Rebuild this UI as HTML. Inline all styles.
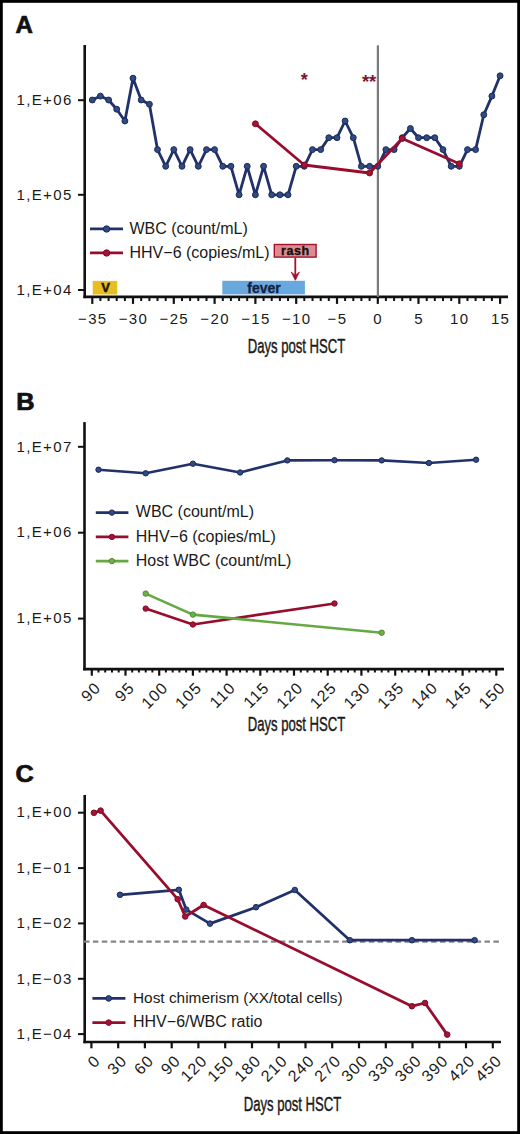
<!DOCTYPE html>
<html><head><meta charset="utf-8"><style>
html,body{margin:0;padding:0;background:#fff;}
#f{position:relative;width:520px;height:1134px;overflow:hidden;}
svg{position:absolute;left:0;top:0;}
</style></head><body><div id="f">
<svg width="520" height="1134" viewBox="0 0 520 1134" font-family='Liberation Sans, sans-serif'>
<rect x="0" y="0" width="520" height="1134" fill="#fff"/>
<text x='15.5' y='33' font-size='24' text-anchor='start' font-weight='bold' fill='#111' stroke='#111' stroke-width='0.7'>A</text>
<line x1='84.7' y1='45' x2='84.7' y2='298.09999999999997' stroke='#111' stroke-width='2.6'/>
<line x1='83.4' y1='296.9' x2='508' y2='296.9' stroke='#111' stroke-width='2.6'/>
<line x1='78' y1='100.2' x2='84.7' y2='100.2' stroke='#111' stroke-width='2'/>
<text x='72.6' y='104.9' font-size='15' text-anchor='end' font-weight='normal' fill='#1a1a1a' letter-spacing='1.35' >1,E+06</text>
<line x1='78' y1='194.8' x2='84.7' y2='194.8' stroke='#111' stroke-width='2'/>
<text x='72.6' y='199.5' font-size='15' text-anchor='end' font-weight='normal' fill='#1a1a1a' letter-spacing='1.35' >1,E+05</text>
<line x1='78' y1='290' x2='84.7' y2='290' stroke='#111' stroke-width='2'/>
<text x='72.6' y='294.7' font-size='15' text-anchor='end' font-weight='normal' fill='#1a1a1a' letter-spacing='1.35' >1,E+04</text>
<line x1='92.3' y1='296.9' x2='92.3' y2='303.9' stroke='#111' stroke-width='2.2'/>
<text x='92.8' y='324.4' font-size='15' text-anchor='middle' font-weight='normal' fill='#1a1a1a' letter-spacing='1.35' >−35</text>
<line x1='100.4' y1='296.9' x2='100.4' y2='301' stroke='#111' stroke-width='2'/>
<line x1='108.6' y1='296.9' x2='108.6' y2='301' stroke='#111' stroke-width='2'/>
<line x1='116.7' y1='296.9' x2='116.7' y2='301' stroke='#111' stroke-width='2'/>
<line x1='124.9' y1='296.9' x2='124.9' y2='301' stroke='#111' stroke-width='2'/>
<line x1='133.0' y1='296.9' x2='133.0' y2='303.9' stroke='#111' stroke-width='2.2'/>
<text x='133.5' y='324.4' font-size='15' text-anchor='middle' font-weight='normal' fill='#1a1a1a' letter-spacing='1.35' >−30</text>
<line x1='141.2' y1='296.9' x2='141.2' y2='301' stroke='#111' stroke-width='2'/>
<line x1='149.4' y1='296.9' x2='149.4' y2='301' stroke='#111' stroke-width='2'/>
<line x1='157.5' y1='296.9' x2='157.5' y2='301' stroke='#111' stroke-width='2'/>
<line x1='165.7' y1='296.9' x2='165.7' y2='301' stroke='#111' stroke-width='2'/>
<line x1='173.8' y1='296.9' x2='173.8' y2='303.9' stroke='#111' stroke-width='2.2'/>
<text x='174.3' y='324.4' font-size='15' text-anchor='middle' font-weight='normal' fill='#1a1a1a' letter-spacing='1.35' >−25</text>
<line x1='182.0' y1='296.9' x2='182.0' y2='301' stroke='#111' stroke-width='2'/>
<line x1='190.1' y1='296.9' x2='190.1' y2='301' stroke='#111' stroke-width='2'/>
<line x1='198.3' y1='296.9' x2='198.3' y2='301' stroke='#111' stroke-width='2'/>
<line x1='206.5' y1='296.9' x2='206.5' y2='301' stroke='#111' stroke-width='2'/>
<line x1='214.6' y1='296.9' x2='214.6' y2='303.9' stroke='#111' stroke-width='2.2'/>
<text x='215.1' y='324.4' font-size='15' text-anchor='middle' font-weight='normal' fill='#1a1a1a' letter-spacing='1.35' >−20</text>
<line x1='222.8' y1='296.9' x2='222.8' y2='301' stroke='#111' stroke-width='2'/>
<line x1='230.9' y1='296.9' x2='230.9' y2='301' stroke='#111' stroke-width='2'/>
<line x1='239.1' y1='296.9' x2='239.1' y2='301' stroke='#111' stroke-width='2'/>
<line x1='247.2' y1='296.9' x2='247.2' y2='301' stroke='#111' stroke-width='2'/>
<line x1='255.4' y1='296.9' x2='255.4' y2='303.9' stroke='#111' stroke-width='2.2'/>
<text x='255.9' y='324.4' font-size='15' text-anchor='middle' font-weight='normal' fill='#1a1a1a' letter-spacing='1.35' >−15</text>
<line x1='263.6' y1='296.9' x2='263.6' y2='301' stroke='#111' stroke-width='2'/>
<line x1='271.7' y1='296.9' x2='271.7' y2='301' stroke='#111' stroke-width='2'/>
<line x1='279.9' y1='296.9' x2='279.9' y2='301' stroke='#111' stroke-width='2'/>
<line x1='288.0' y1='296.9' x2='288.0' y2='301' stroke='#111' stroke-width='2'/>
<line x1='296.2' y1='296.9' x2='296.2' y2='303.9' stroke='#111' stroke-width='2.2'/>
<text x='296.7' y='324.4' font-size='15' text-anchor='middle' font-weight='normal' fill='#1a1a1a' letter-spacing='1.35' >−10</text>
<line x1='304.3' y1='296.9' x2='304.3' y2='301' stroke='#111' stroke-width='2'/>
<line x1='312.5' y1='296.9' x2='312.5' y2='301' stroke='#111' stroke-width='2'/>
<line x1='320.7' y1='296.9' x2='320.7' y2='301' stroke='#111' stroke-width='2'/>
<line x1='328.8' y1='296.9' x2='328.8' y2='301' stroke='#111' stroke-width='2'/>
<line x1='337.0' y1='296.9' x2='337.0' y2='303.9' stroke='#111' stroke-width='2.2'/>
<text x='337.5' y='324.4' font-size='15' text-anchor='middle' font-weight='normal' fill='#1a1a1a' letter-spacing='1.35' >−5</text>
<line x1='345.1' y1='296.9' x2='345.1' y2='301' stroke='#111' stroke-width='2'/>
<line x1='353.3' y1='296.9' x2='353.3' y2='301' stroke='#111' stroke-width='2'/>
<line x1='361.4' y1='296.9' x2='361.4' y2='301' stroke='#111' stroke-width='2'/>
<line x1='369.6' y1='296.9' x2='369.6' y2='301' stroke='#111' stroke-width='2'/>
<line x1='377.8' y1='296.9' x2='377.8' y2='303.9' stroke='#111' stroke-width='2.2'/>
<text x='378.2' y='324.4' font-size='15' text-anchor='middle' font-weight='normal' fill='#1a1a1a' letter-spacing='1.35' >0</text>
<line x1='385.9' y1='296.9' x2='385.9' y2='301' stroke='#111' stroke-width='2'/>
<line x1='394.1' y1='296.9' x2='394.1' y2='301' stroke='#111' stroke-width='2'/>
<line x1='402.2' y1='296.9' x2='402.2' y2='301' stroke='#111' stroke-width='2'/>
<line x1='410.4' y1='296.9' x2='410.4' y2='301' stroke='#111' stroke-width='2'/>
<line x1='418.5' y1='296.9' x2='418.5' y2='303.9' stroke='#111' stroke-width='2.2'/>
<text x='419.0' y='324.4' font-size='15' text-anchor='middle' font-weight='normal' fill='#1a1a1a' letter-spacing='1.35' >5</text>
<line x1='426.7' y1='296.9' x2='426.7' y2='301' stroke='#111' stroke-width='2'/>
<line x1='434.8' y1='296.9' x2='434.8' y2='301' stroke='#111' stroke-width='2'/>
<line x1='443.0' y1='296.9' x2='443.0' y2='301' stroke='#111' stroke-width='2'/>
<line x1='451.2' y1='296.9' x2='451.2' y2='301' stroke='#111' stroke-width='2'/>
<line x1='459.3' y1='296.9' x2='459.3' y2='303.9' stroke='#111' stroke-width='2.2'/>
<text x='459.8' y='324.4' font-size='15' text-anchor='middle' font-weight='normal' fill='#1a1a1a' letter-spacing='1.35' >10</text>
<line x1='467.5' y1='296.9' x2='467.5' y2='301' stroke='#111' stroke-width='2'/>
<line x1='475.6' y1='296.9' x2='475.6' y2='301' stroke='#111' stroke-width='2'/>
<line x1='483.8' y1='296.9' x2='483.8' y2='301' stroke='#111' stroke-width='2'/>
<line x1='491.9' y1='296.9' x2='491.9' y2='301' stroke='#111' stroke-width='2'/>
<line x1='500.1' y1='296.9' x2='500.1' y2='303.9' stroke='#111' stroke-width='2.2'/>
<text x='500.6' y='324.4' font-size='15' text-anchor='middle' font-weight='normal' fill='#1a1a1a' letter-spacing='1.35' >15</text>
<line x1='377.9' y1='45.3' x2='377.9' y2='296.9' stroke='#7a7a7a' stroke-width='2.2'/>
<text x='296.5' y='352.8' font-size='20.5' text-anchor='middle' fill='#1a1a1a' stroke='#1a1a1a' stroke-width='0.45' transform='translate(296.5 0) scale(0.64 1) translate(-296.5 0)'>Days post HSCT</text>
<rect x='222.3' y='280.8' width='82.6' height='13.6' fill='#68a8de'/>
<text x='264' y='293.3' font-size='14' text-anchor='middle' font-weight='bold' fill='#14213f' stroke='#14213f' stroke-width='0.3'>fever</text>
<rect x='92.7' y='280.9' width='24.6' height='13.6' fill='#e8bf22'/>
<text x='105.5' y='292' font-size='13' text-anchor='middle' font-weight='bold' fill='#1b1308' stroke='#1b1308' stroke-width='0.5'>V</text>
<rect x='274.3' y='244.5' width='41.8' height='12.6' fill='#de8a8e' stroke='#a3132f' stroke-width='1.4'/>
<text x='295.4' y='255.1' font-size='12.5' text-anchor='middle' font-weight='bold' fill='#111' letter-spacing='0.6' stroke='#111' stroke-width='0.35'>rash</text>
<line x1='295.3' y1='257.8' x2='295.3' y2='279' stroke='#a3132f' stroke-width='1.8'/>
<path d='M291.2,272 L295.3,280.3 L299.4,272 L295.3,275.5 Z' fill='#a3132f' stroke='#a3132f' stroke-width='0.8' stroke-linejoin='round'/>
<polyline points='92.3,100.0 100.4,96.1 108.6,100.0 116.7,109.2 124.9,121.0 133.0,78.2 141.2,100.0 149.4,104.3 157.5,149.6 165.7,166.3 173.8,149.6 182.0,166.3 190.1,149.6 198.3,166.3 206.5,149.6 214.6,149.6 222.8,166.3 230.9,166.3 239.1,194.8 247.2,166.3 255.4,194.8 263.6,166.3 271.7,194.8 279.9,194.8 288.0,194.8 296.2,166.3 304.3,166.3 312.5,149.6 320.7,149.6 328.8,137.7 337.0,137.7 345.1,121.0 353.3,137.7 361.4,166.3 369.6,166.3 377.8,166.3 385.9,149.6 394.1,149.6 402.2,137.7 410.4,128.5 418.5,137.7 426.7,137.7 434.8,137.7 443.0,149.6 451.2,166.3 459.3,166.3 467.5,149.6 475.6,149.6 483.8,114.7 491.9,96.1 500.1,75.8' fill='none' stroke='#21326a' stroke-width='2.8' stroke-linejoin='round' stroke-linecap='round'/>
<circle cx='92.3' cy='100.0' r='2.95' fill='#2f4a85' stroke='#1c2a55' stroke-width='1'/>
<circle cx='100.4' cy='96.1' r='2.95' fill='#2f4a85' stroke='#1c2a55' stroke-width='1'/>
<circle cx='108.6' cy='100.0' r='2.95' fill='#2f4a85' stroke='#1c2a55' stroke-width='1'/>
<circle cx='116.7' cy='109.2' r='2.95' fill='#2f4a85' stroke='#1c2a55' stroke-width='1'/>
<circle cx='124.9' cy='121.0' r='2.95' fill='#2f4a85' stroke='#1c2a55' stroke-width='1'/>
<circle cx='133.0' cy='78.2' r='2.95' fill='#2f4a85' stroke='#1c2a55' stroke-width='1'/>
<circle cx='141.2' cy='100.0' r='2.95' fill='#2f4a85' stroke='#1c2a55' stroke-width='1'/>
<circle cx='149.4' cy='104.3' r='2.95' fill='#2f4a85' stroke='#1c2a55' stroke-width='1'/>
<circle cx='157.5' cy='149.6' r='2.95' fill='#2f4a85' stroke='#1c2a55' stroke-width='1'/>
<circle cx='165.7' cy='166.3' r='2.95' fill='#2f4a85' stroke='#1c2a55' stroke-width='1'/>
<circle cx='173.8' cy='149.6' r='2.95' fill='#2f4a85' stroke='#1c2a55' stroke-width='1'/>
<circle cx='182.0' cy='166.3' r='2.95' fill='#2f4a85' stroke='#1c2a55' stroke-width='1'/>
<circle cx='190.1' cy='149.6' r='2.95' fill='#2f4a85' stroke='#1c2a55' stroke-width='1'/>
<circle cx='198.3' cy='166.3' r='2.95' fill='#2f4a85' stroke='#1c2a55' stroke-width='1'/>
<circle cx='206.5' cy='149.6' r='2.95' fill='#2f4a85' stroke='#1c2a55' stroke-width='1'/>
<circle cx='214.6' cy='149.6' r='2.95' fill='#2f4a85' stroke='#1c2a55' stroke-width='1'/>
<circle cx='222.8' cy='166.3' r='2.95' fill='#2f4a85' stroke='#1c2a55' stroke-width='1'/>
<circle cx='230.9' cy='166.3' r='2.95' fill='#2f4a85' stroke='#1c2a55' stroke-width='1'/>
<circle cx='239.1' cy='194.8' r='2.95' fill='#2f4a85' stroke='#1c2a55' stroke-width='1'/>
<circle cx='247.2' cy='166.3' r='2.95' fill='#2f4a85' stroke='#1c2a55' stroke-width='1'/>
<circle cx='255.4' cy='194.8' r='2.95' fill='#2f4a85' stroke='#1c2a55' stroke-width='1'/>
<circle cx='263.6' cy='166.3' r='2.95' fill='#2f4a85' stroke='#1c2a55' stroke-width='1'/>
<circle cx='271.7' cy='194.8' r='2.95' fill='#2f4a85' stroke='#1c2a55' stroke-width='1'/>
<circle cx='279.9' cy='194.8' r='2.95' fill='#2f4a85' stroke='#1c2a55' stroke-width='1'/>
<circle cx='288.0' cy='194.8' r='2.95' fill='#2f4a85' stroke='#1c2a55' stroke-width='1'/>
<circle cx='296.2' cy='166.3' r='2.95' fill='#2f4a85' stroke='#1c2a55' stroke-width='1'/>
<circle cx='304.3' cy='166.3' r='2.95' fill='#2f4a85' stroke='#1c2a55' stroke-width='1'/>
<circle cx='312.5' cy='149.6' r='2.95' fill='#2f4a85' stroke='#1c2a55' stroke-width='1'/>
<circle cx='320.7' cy='149.6' r='2.95' fill='#2f4a85' stroke='#1c2a55' stroke-width='1'/>
<circle cx='328.8' cy='137.7' r='2.95' fill='#2f4a85' stroke='#1c2a55' stroke-width='1'/>
<circle cx='337.0' cy='137.7' r='2.95' fill='#2f4a85' stroke='#1c2a55' stroke-width='1'/>
<circle cx='345.1' cy='121.0' r='2.95' fill='#2f4a85' stroke='#1c2a55' stroke-width='1'/>
<circle cx='353.3' cy='137.7' r='2.95' fill='#2f4a85' stroke='#1c2a55' stroke-width='1'/>
<circle cx='361.4' cy='166.3' r='2.95' fill='#2f4a85' stroke='#1c2a55' stroke-width='1'/>
<circle cx='369.6' cy='166.3' r='2.95' fill='#2f4a85' stroke='#1c2a55' stroke-width='1'/>
<circle cx='377.8' cy='166.3' r='2.95' fill='#2f4a85' stroke='#1c2a55' stroke-width='1'/>
<circle cx='385.9' cy='149.6' r='2.95' fill='#2f4a85' stroke='#1c2a55' stroke-width='1'/>
<circle cx='394.1' cy='149.6' r='2.95' fill='#2f4a85' stroke='#1c2a55' stroke-width='1'/>
<circle cx='402.2' cy='137.7' r='2.95' fill='#2f4a85' stroke='#1c2a55' stroke-width='1'/>
<circle cx='410.4' cy='128.5' r='2.95' fill='#2f4a85' stroke='#1c2a55' stroke-width='1'/>
<circle cx='418.5' cy='137.7' r='2.95' fill='#2f4a85' stroke='#1c2a55' stroke-width='1'/>
<circle cx='426.7' cy='137.7' r='2.95' fill='#2f4a85' stroke='#1c2a55' stroke-width='1'/>
<circle cx='434.8' cy='137.7' r='2.95' fill='#2f4a85' stroke='#1c2a55' stroke-width='1'/>
<circle cx='443.0' cy='149.6' r='2.95' fill='#2f4a85' stroke='#1c2a55' stroke-width='1'/>
<circle cx='451.2' cy='166.3' r='2.95' fill='#2f4a85' stroke='#1c2a55' stroke-width='1'/>
<circle cx='459.3' cy='166.3' r='2.95' fill='#2f4a85' stroke='#1c2a55' stroke-width='1'/>
<circle cx='467.5' cy='149.6' r='2.95' fill='#2f4a85' stroke='#1c2a55' stroke-width='1'/>
<circle cx='475.6' cy='149.6' r='2.95' fill='#2f4a85' stroke='#1c2a55' stroke-width='1'/>
<circle cx='483.8' cy='114.7' r='2.95' fill='#2f4a85' stroke='#1c2a55' stroke-width='1'/>
<circle cx='491.9' cy='96.1' r='2.95' fill='#2f4a85' stroke='#1c2a55' stroke-width='1'/>
<circle cx='500.1' cy='75.8' r='2.95' fill='#2f4a85' stroke='#1c2a55' stroke-width='1'/>
<polyline points='255.4,123.8 304.3,165.0 369.6,173.0 402.2,138.5 459.3,163.8' fill='none' stroke='#980c2e' stroke-width='2.8' stroke-linejoin='round' stroke-linecap='round'/>
<circle cx='255.4' cy='123.8' r='2.95' fill='#a81236' stroke='#7d0c25' stroke-width='1'/>
<circle cx='304.3' cy='165.0' r='2.95' fill='#a81236' stroke='#7d0c25' stroke-width='1'/>
<circle cx='369.6' cy='173.0' r='2.95' fill='#a81236' stroke='#7d0c25' stroke-width='1'/>
<circle cx='402.2' cy='138.5' r='2.95' fill='#a81236' stroke='#7d0c25' stroke-width='1'/>
<circle cx='459.3' cy='163.8' r='2.95' fill='#a81236' stroke='#7d0c25' stroke-width='1'/>
<text x='304.3' y='86.2' font-size='18' text-anchor='middle' font-weight='bold' fill='#7c1632' >*</text>
<text x='369.1' y='87.6' font-size='18.5' text-anchor='middle' font-weight='bold' fill='#7c1632' >**</text>
<line x1='90' y1='228.9' x2='123' y2='228.9' stroke='#21326a' stroke-width='2.7'/>
<circle cx='106.6' cy='229.0' r='3.2' fill='#2f4a85' stroke='#1c2a55' stroke-width='1'/>
<line x1='90' y1='252.8' x2='123' y2='252.8' stroke='#980c2e' stroke-width='2.7'/>
<circle cx='106.6' cy='253.0' r='3.2' fill='#a81236' stroke='#7d0c25' stroke-width='1'/>
<text x='129.5' y='233.8' font-size='16' text-anchor='start' font-weight='normal' fill='#1a1a1a' >WBC (count/mL)</text>
<text x='129.5' y='258' font-size='16' text-anchor='start' font-weight='normal' fill='#1a1a1a' >HHV−6 (copies/mL)</text>
<text x='16.2' y='410' font-size='23' text-anchor='start' font-weight='bold' fill='#111' stroke='#111' stroke-width='0.7' transform='translate(16.2 0) scale(1.1 1) translate(-16.2 0)'>B</text>
<line x1='84.5' y1='422.1' x2='84.5' y2='670.3000000000001' stroke='#111' stroke-width='2.6'/>
<line x1='83.2' y1='669.1' x2='504' y2='669.1' stroke='#111' stroke-width='2.6'/>
<line x1='78' y1='446.8' x2='84.5' y2='446.8' stroke='#111' stroke-width='2'/>
<text x='72.6' y='451.5' font-size='15' text-anchor='end' font-weight='normal' fill='#1a1a1a' letter-spacing='1.35' >1,E+07</text>
<line x1='78' y1='532.7' x2='84.5' y2='532.7' stroke='#111' stroke-width='2'/>
<text x='72.6' y='537.4000000000001' font-size='15' text-anchor='end' font-weight='normal' fill='#1a1a1a' letter-spacing='1.35' >1,E+06</text>
<line x1='78' y1='618.6' x2='84.5' y2='618.6' stroke='#111' stroke-width='2'/>
<text x='72.6' y='623.3000000000001' font-size='15' text-anchor='end' font-weight='normal' fill='#1a1a1a' letter-spacing='1.35' >1,E+05</text>
<line x1='91.8' y1='669.1' x2='91.8' y2='675.7' stroke='#111' stroke-width='2.2'/>
<text x='101.7' y='688.8' font-size='16' letter-spacing='1.0' text-anchor='end' fill='#1a1a1a' transform='rotate(-45 101.7 688.8)'>90</text>
<line x1='98.5' y1='669.1' x2='98.5' y2='672.5' stroke='#111' stroke-width='2'/>
<line x1='105.2' y1='669.1' x2='105.2' y2='672.5' stroke='#111' stroke-width='2'/>
<line x1='112.0' y1='669.1' x2='112.0' y2='672.5' stroke='#111' stroke-width='2'/>
<line x1='118.7' y1='669.1' x2='118.7' y2='672.5' stroke='#111' stroke-width='2'/>
<line x1='125.5' y1='669.1' x2='125.5' y2='675.7' stroke='#111' stroke-width='2.2'/>
<text x='135.4' y='688.8' font-size='16' letter-spacing='1.0' text-anchor='end' fill='#1a1a1a' transform='rotate(-45 135.4 688.8)'>95</text>
<line x1='132.2' y1='669.1' x2='132.2' y2='672.5' stroke='#111' stroke-width='2'/>
<line x1='138.9' y1='669.1' x2='138.9' y2='672.5' stroke='#111' stroke-width='2'/>
<line x1='145.7' y1='669.1' x2='145.7' y2='672.5' stroke='#111' stroke-width='2'/>
<line x1='152.4' y1='669.1' x2='152.4' y2='672.5' stroke='#111' stroke-width='2'/>
<line x1='159.2' y1='669.1' x2='159.2' y2='675.7' stroke='#111' stroke-width='2.2'/>
<text x='169.1' y='688.8' font-size='16' letter-spacing='1.0' text-anchor='end' fill='#1a1a1a' transform='rotate(-45 169.1 688.8)'>100</text>
<line x1='165.9' y1='669.1' x2='165.9' y2='672.5' stroke='#111' stroke-width='2'/>
<line x1='172.7' y1='669.1' x2='172.7' y2='672.5' stroke='#111' stroke-width='2'/>
<line x1='179.4' y1='669.1' x2='179.4' y2='672.5' stroke='#111' stroke-width='2'/>
<line x1='186.1' y1='669.1' x2='186.1' y2='672.5' stroke='#111' stroke-width='2'/>
<line x1='192.9' y1='669.1' x2='192.9' y2='675.7' stroke='#111' stroke-width='2.2'/>
<text x='202.8' y='688.8' font-size='16' letter-spacing='1.0' text-anchor='end' fill='#1a1a1a' transform='rotate(-45 202.8 688.8)'>105</text>
<line x1='199.6' y1='669.1' x2='199.6' y2='672.5' stroke='#111' stroke-width='2'/>
<line x1='206.4' y1='669.1' x2='206.4' y2='672.5' stroke='#111' stroke-width='2'/>
<line x1='213.1' y1='669.1' x2='213.1' y2='672.5' stroke='#111' stroke-width='2'/>
<line x1='219.9' y1='669.1' x2='219.9' y2='672.5' stroke='#111' stroke-width='2'/>
<line x1='226.6' y1='669.1' x2='226.6' y2='675.7' stroke='#111' stroke-width='2.2'/>
<text x='236.5' y='688.8' font-size='16' letter-spacing='1.0' text-anchor='end' fill='#1a1a1a' transform='rotate(-45 236.5 688.8)'>110</text>
<line x1='233.3' y1='669.1' x2='233.3' y2='672.5' stroke='#111' stroke-width='2'/>
<line x1='240.1' y1='669.1' x2='240.1' y2='672.5' stroke='#111' stroke-width='2'/>
<line x1='246.8' y1='669.1' x2='246.8' y2='672.5' stroke='#111' stroke-width='2'/>
<line x1='253.6' y1='669.1' x2='253.6' y2='672.5' stroke='#111' stroke-width='2'/>
<line x1='260.3' y1='669.1' x2='260.3' y2='675.7' stroke='#111' stroke-width='2.2'/>
<text x='270.2' y='688.8' font-size='16' letter-spacing='1.0' text-anchor='end' fill='#1a1a1a' transform='rotate(-45 270.2 688.8)'>115</text>
<line x1='267.1' y1='669.1' x2='267.1' y2='672.5' stroke='#111' stroke-width='2'/>
<line x1='273.8' y1='669.1' x2='273.8' y2='672.5' stroke='#111' stroke-width='2'/>
<line x1='280.5' y1='669.1' x2='280.5' y2='672.5' stroke='#111' stroke-width='2'/>
<line x1='287.3' y1='669.1' x2='287.3' y2='672.5' stroke='#111' stroke-width='2'/>
<line x1='294.0' y1='669.1' x2='294.0' y2='675.7' stroke='#111' stroke-width='2.2'/>
<text x='303.9' y='688.8' font-size='16' letter-spacing='1.0' text-anchor='end' fill='#1a1a1a' transform='rotate(-45 303.9 688.8)'>120</text>
<line x1='300.8' y1='669.1' x2='300.8' y2='672.5' stroke='#111' stroke-width='2'/>
<line x1='307.5' y1='669.1' x2='307.5' y2='672.5' stroke='#111' stroke-width='2'/>
<line x1='314.3' y1='669.1' x2='314.3' y2='672.5' stroke='#111' stroke-width='2'/>
<line x1='321.0' y1='669.1' x2='321.0' y2='672.5' stroke='#111' stroke-width='2'/>
<line x1='327.7' y1='669.1' x2='327.7' y2='675.7' stroke='#111' stroke-width='2.2'/>
<text x='337.6' y='688.8' font-size='16' letter-spacing='1.0' text-anchor='end' fill='#1a1a1a' transform='rotate(-45 337.6 688.8)'>125</text>
<line x1='334.5' y1='669.1' x2='334.5' y2='672.5' stroke='#111' stroke-width='2'/>
<line x1='341.2' y1='669.1' x2='341.2' y2='672.5' stroke='#111' stroke-width='2'/>
<line x1='348.0' y1='669.1' x2='348.0' y2='672.5' stroke='#111' stroke-width='2'/>
<line x1='354.7' y1='669.1' x2='354.7' y2='672.5' stroke='#111' stroke-width='2'/>
<line x1='361.4' y1='669.1' x2='361.4' y2='675.7' stroke='#111' stroke-width='2.2'/>
<text x='371.3' y='688.8' font-size='16' letter-spacing='1.0' text-anchor='end' fill='#1a1a1a' transform='rotate(-45 371.3 688.8)'>130</text>
<line x1='368.2' y1='669.1' x2='368.2' y2='672.5' stroke='#111' stroke-width='2'/>
<line x1='374.9' y1='669.1' x2='374.9' y2='672.5' stroke='#111' stroke-width='2'/>
<line x1='381.7' y1='669.1' x2='381.7' y2='672.5' stroke='#111' stroke-width='2'/>
<line x1='388.4' y1='669.1' x2='388.4' y2='672.5' stroke='#111' stroke-width='2'/>
<line x1='395.2' y1='669.1' x2='395.2' y2='675.7' stroke='#111' stroke-width='2.2'/>
<text x='405.1' y='688.8' font-size='16' letter-spacing='1.0' text-anchor='end' fill='#1a1a1a' transform='rotate(-45 405.1 688.8)'>135</text>
<line x1='401.9' y1='669.1' x2='401.9' y2='672.5' stroke='#111' stroke-width='2'/>
<line x1='408.6' y1='669.1' x2='408.6' y2='672.5' stroke='#111' stroke-width='2'/>
<line x1='415.4' y1='669.1' x2='415.4' y2='672.5' stroke='#111' stroke-width='2'/>
<line x1='422.1' y1='669.1' x2='422.1' y2='672.5' stroke='#111' stroke-width='2'/>
<line x1='428.9' y1='669.1' x2='428.9' y2='675.7' stroke='#111' stroke-width='2.2'/>
<text x='438.8' y='688.8' font-size='16' letter-spacing='1.0' text-anchor='end' fill='#1a1a1a' transform='rotate(-45 438.8 688.8)'>140</text>
<line x1='435.6' y1='669.1' x2='435.6' y2='672.5' stroke='#111' stroke-width='2'/>
<line x1='442.4' y1='669.1' x2='442.4' y2='672.5' stroke='#111' stroke-width='2'/>
<line x1='449.1' y1='669.1' x2='449.1' y2='672.5' stroke='#111' stroke-width='2'/>
<line x1='455.8' y1='669.1' x2='455.8' y2='672.5' stroke='#111' stroke-width='2'/>
<line x1='462.6' y1='669.1' x2='462.6' y2='675.7' stroke='#111' stroke-width='2.2'/>
<text x='472.5' y='688.8' font-size='16' letter-spacing='1.0' text-anchor='end' fill='#1a1a1a' transform='rotate(-45 472.5 688.8)'>145</text>
<line x1='469.3' y1='669.1' x2='469.3' y2='672.5' stroke='#111' stroke-width='2'/>
<line x1='476.1' y1='669.1' x2='476.1' y2='672.5' stroke='#111' stroke-width='2'/>
<line x1='482.8' y1='669.1' x2='482.8' y2='672.5' stroke='#111' stroke-width='2'/>
<line x1='489.6' y1='669.1' x2='489.6' y2='672.5' stroke='#111' stroke-width='2'/>
<line x1='496.3' y1='669.1' x2='496.3' y2='675.7' stroke='#111' stroke-width='2.2'/>
<text x='506.2' y='688.8' font-size='16' letter-spacing='1.0' text-anchor='end' fill='#1a1a1a' transform='rotate(-45 506.2 688.8)'>150</text>
<text x='296.5' y='731.2' font-size='20.5' text-anchor='middle' fill='#1a1a1a' stroke='#1a1a1a' stroke-width='0.45' transform='translate(296.5 0) scale(0.64 1) translate(-296.5 0)'>Days post HSCT</text>
<polyline points='98.5,469.7 145.7,473.3 192.9,463.7 240.1,472.5 287.3,460.4 334.5,460.2 381.7,460.4 428.9,463.0 476.1,459.7' fill='none' stroke='#21326a' stroke-width='2.6' stroke-linejoin='round' stroke-linecap='round'/>
<circle cx='98.5' cy='469.7' r='2.7' fill='#2f4a85' stroke='#1c2a55' stroke-width='1'/>
<circle cx='145.7' cy='473.3' r='2.7' fill='#2f4a85' stroke='#1c2a55' stroke-width='1'/>
<circle cx='192.9' cy='463.7' r='2.7' fill='#2f4a85' stroke='#1c2a55' stroke-width='1'/>
<circle cx='240.1' cy='472.5' r='2.7' fill='#2f4a85' stroke='#1c2a55' stroke-width='1'/>
<circle cx='287.3' cy='460.4' r='2.7' fill='#2f4a85' stroke='#1c2a55' stroke-width='1'/>
<circle cx='334.5' cy='460.2' r='2.7' fill='#2f4a85' stroke='#1c2a55' stroke-width='1'/>
<circle cx='381.7' cy='460.4' r='2.7' fill='#2f4a85' stroke='#1c2a55' stroke-width='1'/>
<circle cx='428.9' cy='463.0' r='2.7' fill='#2f4a85' stroke='#1c2a55' stroke-width='1'/>
<circle cx='476.1' cy='459.7' r='2.7' fill='#2f4a85' stroke='#1c2a55' stroke-width='1'/>
<polyline points='145.7,608.6 192.9,624.5 334.5,603.5' fill='none' stroke='#980c2e' stroke-width='2.6' stroke-linejoin='round' stroke-linecap='round'/>
<circle cx='145.7' cy='608.6' r='2.7' fill='#a81236' stroke='#7d0c25' stroke-width='1'/>
<circle cx='192.9' cy='624.5' r='2.7' fill='#a81236' stroke='#7d0c25' stroke-width='1'/>
<circle cx='334.5' cy='603.5' r='2.7' fill='#a81236' stroke='#7d0c25' stroke-width='1'/>
<polyline points='145.7,593.6 192.9,614.6 381.7,632.7' fill='none' stroke='#66a844' stroke-width='2.6' stroke-linejoin='round' stroke-linecap='round'/>
<circle cx='145.7' cy='593.6' r='2.7' fill='#70b04b' stroke='#4f8a30' stroke-width='1'/>
<circle cx='192.9' cy='614.6' r='2.7' fill='#70b04b' stroke='#4f8a30' stroke-width='1'/>
<circle cx='381.7' cy='632.7' r='2.7' fill='#70b04b' stroke='#4f8a30' stroke-width='1'/>
<line x1='95.8' y1='512.6' x2='128.4' y2='512.6' stroke='#21326a' stroke-width='2.6'/>
<circle cx='111.9' cy='512.6' r='2.7' fill='#2f4a85' stroke='#1c2a55' stroke-width='1'/>
<text x='135.8' y='517.4' font-size='16' text-anchor='start' font-weight='normal' fill='#1a1a1a' >WBC (count/mL)</text>
<line x1='95.8' y1='536.85' x2='128.4' y2='536.85' stroke='#980c2e' stroke-width='2.6'/>
<circle cx='111.9' cy='536.9' r='2.7' fill='#a81236' stroke='#7d0c25' stroke-width='1'/>
<text x='135.8' y='541.65' font-size='16' text-anchor='start' font-weight='normal' fill='#1a1a1a' >HHV−6 (copies/mL)</text>
<line x1='95.8' y1='561.1' x2='128.4' y2='561.1' stroke='#66a844' stroke-width='2.6'/>
<circle cx='111.9' cy='561.1' r='2.7' fill='#70b04b' stroke='#4f8a30' stroke-width='1'/>
<text x='135.8' y='565.9' font-size='16' text-anchor='start' font-weight='normal' fill='#1a1a1a' >Host WBC (count/mL)</text>
<text x='15.5' y='782.5' font-size='23' text-anchor='start' font-weight='bold' fill='#111' stroke='#111' stroke-width='0.7' transform='translate(15.5 0) scale(1.1 1) translate(-15.5 0)'>C</text>
<line x1='84.7' y1='795' x2='84.7' y2='1043.2' stroke='#111' stroke-width='2.6'/>
<line x1='83.4' y1='1042.0' x2='501' y2='1042.0' stroke='#111' stroke-width='2.6'/>
<line x1='78' y1='812.7' x2='84.7' y2='812.7' stroke='#111' stroke-width='2'/>
<text x='72.6' y='817.4' font-size='15' text-anchor='end' font-weight='normal' fill='#1a1a1a' letter-spacing='1.35' >1,E+00</text>
<line x1='78' y1='868.1' x2='84.7' y2='868.1' stroke='#111' stroke-width='2'/>
<text x='72.6' y='872.8' font-size='15' text-anchor='end' font-weight='normal' fill='#1a1a1a' letter-spacing='1.35' >1,E−01</text>
<line x1='78' y1='923.4' x2='84.7' y2='923.4' stroke='#111' stroke-width='2'/>
<text x='72.6' y='928.1' font-size='15' text-anchor='end' font-weight='normal' fill='#1a1a1a' letter-spacing='1.35' >1,E−02</text>
<line x1='78' y1='978.8' x2='84.7' y2='978.8' stroke='#111' stroke-width='2'/>
<text x='72.6' y='983.5' font-size='15' text-anchor='end' font-weight='normal' fill='#1a1a1a' letter-spacing='1.35' >1,E−03</text>
<line x1='78' y1='1034.1' x2='84.7' y2='1034.1' stroke='#111' stroke-width='2'/>
<text x='72.6' y='1038.8' font-size='15' text-anchor='end' font-weight='normal' fill='#1a1a1a' letter-spacing='1.35' >1,E−04</text>
<line x1='91.4' y1='1042.0' x2='91.4' y2='1048.3' stroke='#111' stroke-width='2.2'/>
<text x='101.3' y='1061.8' font-size='16' letter-spacing='1.0' text-anchor='end' fill='#1a1a1a' transform='rotate(-45 101.3 1061.8)'>0</text>
<line x1='118.2' y1='1042.0' x2='118.2' y2='1048.3' stroke='#111' stroke-width='2.2'/>
<text x='128.1' y='1061.8' font-size='16' letter-spacing='1.0' text-anchor='end' fill='#1a1a1a' transform='rotate(-45 128.1 1061.8)'>30</text>
<line x1='144.9' y1='1042.0' x2='144.9' y2='1048.3' stroke='#111' stroke-width='2.2'/>
<text x='154.8' y='1061.8' font-size='16' letter-spacing='1.0' text-anchor='end' fill='#1a1a1a' transform='rotate(-45 154.8 1061.8)'>60</text>
<line x1='171.7' y1='1042.0' x2='171.7' y2='1048.3' stroke='#111' stroke-width='2.2'/>
<text x='181.6' y='1061.8' font-size='16' letter-spacing='1.0' text-anchor='end' fill='#1a1a1a' transform='rotate(-45 181.6 1061.8)'>90</text>
<line x1='198.4' y1='1042.0' x2='198.4' y2='1048.3' stroke='#111' stroke-width='2.2'/>
<text x='208.3' y='1061.8' font-size='16' letter-spacing='1.0' text-anchor='end' fill='#1a1a1a' transform='rotate(-45 208.3 1061.8)'>120</text>
<line x1='225.2' y1='1042.0' x2='225.2' y2='1048.3' stroke='#111' stroke-width='2.2'/>
<text x='235.1' y='1061.8' font-size='16' letter-spacing='1.0' text-anchor='end' fill='#1a1a1a' transform='rotate(-45 235.1 1061.8)'>150</text>
<line x1='252.0' y1='1042.0' x2='252.0' y2='1048.3' stroke='#111' stroke-width='2.2'/>
<text x='261.9' y='1061.8' font-size='16' letter-spacing='1.0' text-anchor='end' fill='#1a1a1a' transform='rotate(-45 261.9 1061.8)'>180</text>
<line x1='278.7' y1='1042.0' x2='278.7' y2='1048.3' stroke='#111' stroke-width='2.2'/>
<text x='288.6' y='1061.8' font-size='16' letter-spacing='1.0' text-anchor='end' fill='#1a1a1a' transform='rotate(-45 288.6 1061.8)'>210</text>
<line x1='305.5' y1='1042.0' x2='305.5' y2='1048.3' stroke='#111' stroke-width='2.2'/>
<text x='315.4' y='1061.8' font-size='16' letter-spacing='1.0' text-anchor='end' fill='#1a1a1a' transform='rotate(-45 315.4 1061.8)'>240</text>
<line x1='332.2' y1='1042.0' x2='332.2' y2='1048.3' stroke='#111' stroke-width='2.2'/>
<text x='342.1' y='1061.8' font-size='16' letter-spacing='1.0' text-anchor='end' fill='#1a1a1a' transform='rotate(-45 342.1 1061.8)'>270</text>
<line x1='359.0' y1='1042.0' x2='359.0' y2='1048.3' stroke='#111' stroke-width='2.2'/>
<text x='368.9' y='1061.8' font-size='16' letter-spacing='1.0' text-anchor='end' fill='#1a1a1a' transform='rotate(-45 368.9 1061.8)'>300</text>
<line x1='385.8' y1='1042.0' x2='385.8' y2='1048.3' stroke='#111' stroke-width='2.2'/>
<text x='395.7' y='1061.8' font-size='16' letter-spacing='1.0' text-anchor='end' fill='#1a1a1a' transform='rotate(-45 395.7 1061.8)'>330</text>
<line x1='412.5' y1='1042.0' x2='412.5' y2='1048.3' stroke='#111' stroke-width='2.2'/>
<text x='422.4' y='1061.8' font-size='16' letter-spacing='1.0' text-anchor='end' fill='#1a1a1a' transform='rotate(-45 422.4 1061.8)'>360</text>
<line x1='439.3' y1='1042.0' x2='439.3' y2='1048.3' stroke='#111' stroke-width='2.2'/>
<text x='449.2' y='1061.8' font-size='16' letter-spacing='1.0' text-anchor='end' fill='#1a1a1a' transform='rotate(-45 449.2 1061.8)'>390</text>
<line x1='466.0' y1='1042.0' x2='466.0' y2='1048.3' stroke='#111' stroke-width='2.2'/>
<text x='475.9' y='1061.8' font-size='16' letter-spacing='1.0' text-anchor='end' fill='#1a1a1a' transform='rotate(-45 475.9 1061.8)'>420</text>
<line x1='492.8' y1='1042.0' x2='492.8' y2='1048.3' stroke='#111' stroke-width='2.2'/>
<text x='502.7' y='1061.8' font-size='16' letter-spacing='1.0' text-anchor='end' fill='#1a1a1a' transform='rotate(-45 502.7 1061.8)'>450</text>
<text x='292.5' y='1110.7' font-size='20.5' text-anchor='middle' fill='#1a1a1a' stroke='#1a1a1a' stroke-width='0.45' transform='translate(292.5 0) scale(0.64 1) translate(-292.5 0)'>Days post HSCT</text>
<line x1='84' y1='941.6' x2='500' y2='941.6' stroke='#858585' stroke-width='2.3' stroke-dasharray='5.5 3.4'/>
<polyline points='120.0,894.8 178.8,889.8 186.2,909.6 210.0,923.6 256.0,907.2 294.8,890.0 349.8,940.2 411.9,940.2 474.6,940.2' fill='none' stroke='#21326a' stroke-width='2.8' stroke-linejoin='round' stroke-linecap='round'/>
<circle cx='120.0' cy='894.8' r='2.8' fill='#2f4a85' stroke='#1c2a55' stroke-width='1'/>
<circle cx='178.8' cy='889.8' r='2.8' fill='#2f4a85' stroke='#1c2a55' stroke-width='1'/>
<circle cx='186.2' cy='909.6' r='2.8' fill='#2f4a85' stroke='#1c2a55' stroke-width='1'/>
<circle cx='210.0' cy='923.6' r='2.8' fill='#2f4a85' stroke='#1c2a55' stroke-width='1'/>
<circle cx='256.0' cy='907.2' r='2.8' fill='#2f4a85' stroke='#1c2a55' stroke-width='1'/>
<circle cx='294.8' cy='890.0' r='2.8' fill='#2f4a85' stroke='#1c2a55' stroke-width='1'/>
<circle cx='349.8' cy='940.2' r='2.8' fill='#2f4a85' stroke='#1c2a55' stroke-width='1'/>
<circle cx='411.9' cy='940.2' r='2.8' fill='#2f4a85' stroke='#1c2a55' stroke-width='1'/>
<circle cx='474.6' cy='940.2' r='2.8' fill='#2f4a85' stroke='#1c2a55' stroke-width='1'/>
<polyline points='93.9,812.8 100.6,810.6 177.7,899.2 185.2,916.5 203.6,905.0 411.9,1006.2 425.0,1003.0 447.2,1034.6' fill='none' stroke='#980c2e' stroke-width='2.8' stroke-linejoin='round' stroke-linecap='round'/>
<circle cx='93.9' cy='812.8' r='2.8' fill='#a81236' stroke='#7d0c25' stroke-width='1'/>
<circle cx='100.6' cy='810.6' r='2.8' fill='#a81236' stroke='#7d0c25' stroke-width='1'/>
<circle cx='177.7' cy='899.2' r='2.8' fill='#a81236' stroke='#7d0c25' stroke-width='1'/>
<circle cx='185.2' cy='916.5' r='2.8' fill='#a81236' stroke='#7d0c25' stroke-width='1'/>
<circle cx='203.6' cy='905.0' r='2.8' fill='#a81236' stroke='#7d0c25' stroke-width='1'/>
<circle cx='411.9' cy='1006.2' r='2.8' fill='#a81236' stroke='#7d0c25' stroke-width='1'/>
<circle cx='425.0' cy='1003.0' r='2.8' fill='#a81236' stroke='#7d0c25' stroke-width='1'/>
<circle cx='447.2' cy='1034.6' r='2.8' fill='#a81236' stroke='#7d0c25' stroke-width='1'/>
<line x1='92.4' y1='998.4' x2='125.4' y2='998.4' stroke='#21326a' stroke-width='2.6'/>
<circle cx='108.7' cy='998.4' r='2.8' fill='#2f4a85' stroke='#1c2a55' stroke-width='1'/>
<text x='133' y='1003.2' font-size='15.4' text-anchor='start' font-weight='normal' fill='#1a1a1a' >Host chimerism (XX/total cells)</text>
<line x1='92.4' y1='1022.6' x2='125.4' y2='1022.6' stroke='#980c2e' stroke-width='2.6'/>
<circle cx='108.7' cy='1022.6' r='2.8' fill='#a81236' stroke='#7d0c25' stroke-width='1'/>
<text x='133' y='1027.4' font-size='16' text-anchor='start' font-weight='normal' fill='#1a1a1a' >HHV−6/WBC ratio</text>
<rect x="1.4" y="1.4" width="517.2" height="1131.2" fill="none" stroke="#000" stroke-width="2.8"/>
</svg></div></body></html>
